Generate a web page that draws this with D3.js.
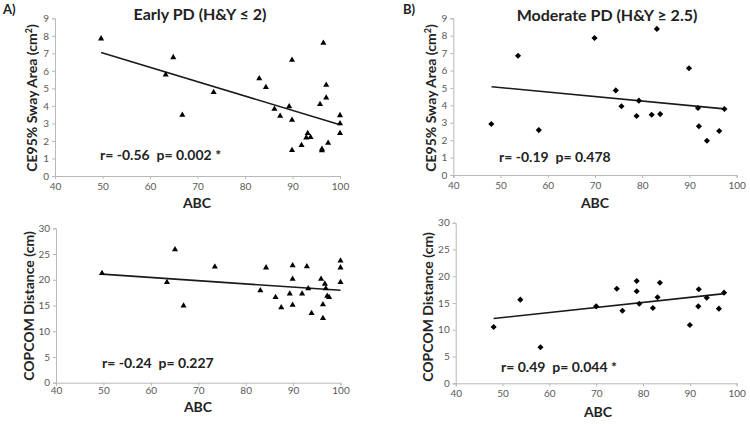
<!DOCTYPE html>
<html><head><meta charset="utf-8">
<script src="https://cdn.jsdelivr.net/npm/d3@7"></script>
<style>body{margin:0;background:#fff}svg{display:block}</style>
</head><body>
<svg id="c" width="750" height="424"></svg>
<script>
// ---- data ----
const earlyABC = [49.7,63.3,64.9,66.8,73.4,83.0,84.4,86.2,87.4,89.3,89.9,89.9,89.9,91.9,92.9,93.2,93.8,95.8,96.2,96.2,96.5,97.1,97.1,97.5,100,100,100];
const earlySway = [7.84,5.78,6.77,3.48,4.78,5.56,5.06,3.82,3.42,3.96,6.62,3.20,1.47,1.75,2.19,2.44,2.21,4.09,1.54,1.45,7.59,4.47,5.19,1.88,3.46,2.99,2.44];
const earlyCopABC = [49.7,63.4,65.1,66.9,73.5,83.1,84.3,86.3,87.5,89.3,89.9,89.9,89.9,91.9,92.9,93.2,93.9,95.9,96.3,96.3,96.7,96.9,97.2,97.6,100,100,100];
const earlyCop = [21.26,19.5,25.9,14.97,22.55,17.9,22.36,16.6,14.6,17.3,22.75,20.15,15.1,17.3,22.6,18.3,13.5,20.15,15.2,12.5,19.2,18.3,16.85,16.6,23.7,22.36,19.5];
const modABC = [48.05,53.7,58.1,69.9,74.4,75.6,78.8,79.3,82.0,83.1,83.8,89.9,91.8,92.0,93.7,96.3,97.4];
const modSway = [2.93,6.85,2.58,7.87,4.86,3.95,3.39,4.27,3.46,8.39,3.50,6.13,3.85,2.80,1.97,2.53,3.79];
const modCopABC = [48.1,53.8,58.1,70.0,74.4,75.6,78.65,78.65,79.2,82.1,83.1,83.6,90.0,91.9,91.8,93.6,96.2,97.3];
const modCop = [10.52,15.62,6.73,14.38,17.67,13.56,19.11,17.19,14.87,14.07,16.07,18.79,10.89,17.56,14.38,15.99,13.94,16.93];
// trend lines [x0,x1], [y0,y1]
const earlySwayFit = [[49.7,100],[7.05,2.92]];
const earlyCopFit = [[49.7,100],[21.1,17.95]];
const modSwayFit = [[48.1,97.4],[5.07,3.80]];
const modCopFit = [[48.1,97.4],[12.1,16.75]];
const xTicks = [40,50,60,70,80,90,100];
const swayTicks = [0,1,2,3,4,5,6,7,8,9];
const copTicks = [0,5,10,15,20,25,30];
const titles = ["Early PD (H&Y \u2264 2)", "Moderate PD (H&Y \u2265 2.5)"];
const stats = ["r= -0.56 \u00a0p= 0.002 *","r= -0.24 \u00a0p= 0.227","r= -0.19 \u00a0p= 0.478","r= 0.49 \u00a0p= 0.044 *"];

const svg = d3.select("#c");
const FONT = "Lato, 'Open Sans', sans-serif";

function panel(o){
  const x = d3.scaleLinear().domain([40,100]).range(o.xr);
  const y = d3.scaleLinear().domain(o.yd).range(o.yr);
  const g = svg.append("g");
  const xa = g.append("g").attr("transform",`translate(0,${o.yr[0]})`)
    .call(d3.axisBottom(x).tickValues(xTicks).tickSize(3).tickPadding(o.xpad));
  const ya = g.append("g").attr("transform",`translate(${o.xr[0]},0)`)
    .call(d3.axisLeft(y).tickValues(o.yt).tickSize(3).tickPadding(3));
  [xa,ya].forEach(a=>{
    a.selectAll("path,line").attr("stroke","#b8b8b8");
    a.selectAll("text").attr("fill","#595959").attr("font-size",10).attr("font-family",FONT);
  });
  // trend
  g.append("line")
    .attr("x1",x(o.fit[0][0])).attr("x2",x(o.fit[0][1]))
    .attr("y1",y(o.fit[1][0])).attr("y2",y(o.fit[1][1]))
    .attr("stroke","#1a1a1a").attr("stroke-width",1.6);
  const sym = d3.symbol().type(o.tri?d3.symbolTriangle:d3.symbolDiamond2).size(o.tri?16:24);
  g.selectAll("path.pt").data(o.xs).join("path").attr("class","pt")
    .attr("d",sym)
    .attr("transform",(d,i)=>`translate(${x(d)},${y(o.ys[i])})`)
    .attr("fill","#000");
  g.append("text").attr("x",o.sx).attr("y",o.sy).attr("font-family",FONT)
    .attr("font-weight","bold").attr("font-size",14).attr("fill","#222")
    .text(o.stat);
  g.append("text").attr("x",o.abcx).attr("y",o.abcy).attr("text-anchor","middle")
    .attr("font-family",FONT).attr("font-weight","bold").attr("font-size",14).attr("fill","#222").text("ABC");
  const yt = g.append("text").attr("transform",`translate(${o.ytx},${o.yty}) rotate(-90)`)
    .attr("text-anchor","middle").attr("font-family",FONT).attr("font-weight","bold")
    .attr("font-size",14).attr("fill","#222");
  if(o.sup){
    yt.append("tspan").text("CE95% Sway Area (cm");
    yt.append("tspan").attr("dy",-5).attr("font-size",9).text("2");
    yt.append("tspan").attr("dy",5).text(")");
  } else yt.text(o.ylab);
}

panel({xr:[55,340],yr:[176,18.3],yd:[0,9],yt:swayTicks,xs:earlyABC,ys:earlySway,fit:earlySwayFit,tri:true,xpad:4,
  stat:stats[0],sx:100,sy:160,abcx:197,abcy:208,ytx:37,yty:98,sup:true});
panel({xr:[56,340.5],yr:[382.7,228.3],yd:[0,30],yt:copTicks,xs:earlyCopABC,ys:earlyCop,fit:earlyCopFit,tri:true,xpad:1,
  stat:stats[1],sx:102,sy:368,abcx:198,abcy:412,ytx:34,yty:306,ylab:"COPCOM Distance (cm)"});
panel({xr:[453.3,736.7],yr:[175,18.3],yd:[0,9],yt:swayTicks,xs:modABC,ys:modSway,fit:modSwayFit,tri:false,xpad:4,
  stat:stats[2],sx:499,sy:162,abcx:595,abcy:208,ytx:436,yty:98,sup:true});
panel({xr:[455.7,736.7],yr:[383.3,222.7],yd:[0,30],yt:copTicks,xs:modCopABC,ys:modCop,fit:modCopFit,tri:false,xpad:4,
  stat:stats[3],sx:501,sy:372,abcx:598,abcy:417,ytx:433,yty:307,ylab:"COPCOM Distance (cm)"});

// titles & panel letters
svg.append("text").attr("x",200).attr("y",20).attr("text-anchor","middle").attr("font-family",FONT)
  .attr("font-weight","bold").attr("font-size",16).attr("fill","#222").text(titles[0]);
svg.append("text").attr("x",607).attr("y",21).attr("text-anchor","middle").attr("font-family",FONT)
  .attr("font-weight","bold").attr("font-size",16).attr("fill","#222").text(titles[1]);
svg.append("text").attr("x",3).attr("y",14).attr("font-family",FONT)
  .attr("font-weight","bold").attr("font-size",13).attr("fill","#222").text("A)");
svg.append("text").attr("x",403).attr("y",14).attr("font-family",FONT)
  .attr("font-weight","bold").attr("font-size",13).attr("fill","#222").text("B)");
</script>
</body></html>
